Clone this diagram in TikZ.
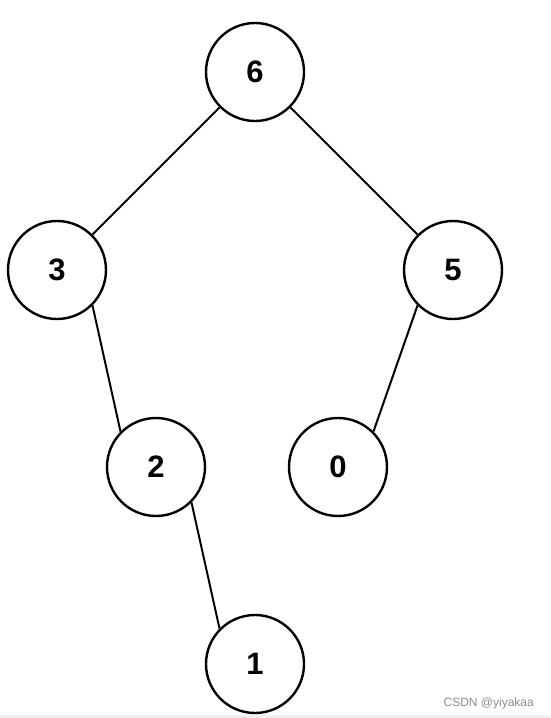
\documentclass[tikz,border=0pt]{standalone}
\usepackage{fontspec}
\setmainfont{Liberation Sans}
\begin{document}
\begin{tikzpicture}[x=1pt,y=-1pt,
  treenode/.style={circle,draw=black,line width=2.4pt,minimum size=98pt,inner sep=0pt,
    font=\fontsize{31}{31}\selectfont\bfseries},
  edge/.style={draw=black,line width=2pt}]
\useasboundingbox (0,0) rectangle (550,718);
\fill[white] (0,0) rectangle (550,718);
\fill[black!6] (0,715) rectangle (550,718);
\node[treenode] (n6) at (255,72) {6};
\node[treenode] (n3) at (57,270) {3};
\node[treenode] (n5) at (453,270) {5};
\node[treenode] (n2) at (156,467) {2};
\node[treenode] (n0) at (338,467) {0};
\node[treenode] (n1) at (255,664) {1};
\draw[edge] (n6.south west) -- (n3.north east);
\draw[edge] (n6.south east) -- (n5.north west);
\draw[edge] (n3.south east) -- (n2.north west);
\draw[edge] (n2.south east) -- (n1.north west);
\draw[edge] (n5.south west) -- (n0.north east);
\node[anchor=base east,text=black!45,font=\fontsize{12}{12}\selectfont,inner sep=0pt] (wm) at (534,706) {CSDN @yiyakaa};
\end{tikzpicture}
\end{document}
